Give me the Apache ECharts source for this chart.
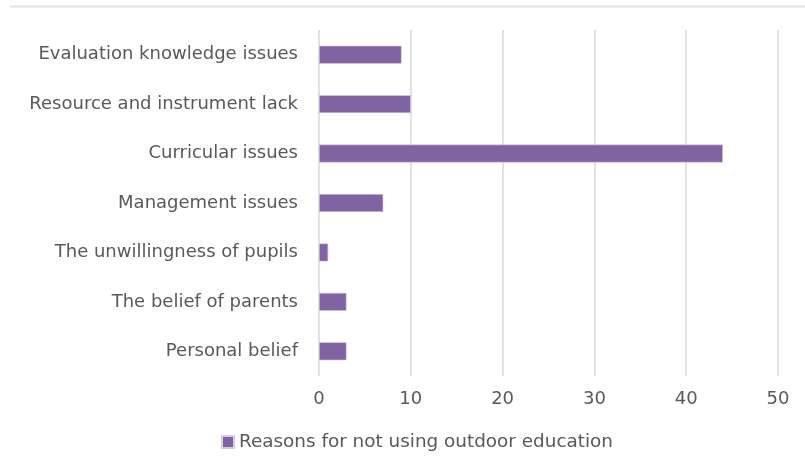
<!DOCTYPE html>
<html>
<head>
<meta charset="utf-8">
<script src="https://cdn.jsdelivr.net/npm/echarts@6/dist/echarts.min.js"></script>
<style>html,body{margin:0;padding:0;background:#fff}#c{width:805px;height:472px}</style>
</head>
<body>
<div id="c"></div>
<script>
const categories = ["Personal belief", "The belief of parents", "The unwillingness of pupils", "Management issues", "Curricular issues", "Resource and instrument lack", "Evaluation knowledge issues"];
const values = [3, 3, 1, 7, 44, 10, 9];
const seriesName = "Reasons for not using outdoor education";
const xTicks = [0, 10, 20, 30, 40, 50];

const chart = echarts.init(document.getElementById('c'), null, {renderer: 'canvas'});
const font = '"DejaVu Sans", sans-serif';
chart.setOption({
  animation: false,
  backgroundColor: '#fff',
  graphic: [{
    type: 'line', shape: {x1: 10, y1: 6.5, x2: 805, y2: 6.5},
    style: {stroke: '#e2e2e2', lineWidth: 2}
  }],
  grid: {left: 319, right: 27, top: 30, bottom: 96, containLabel: false},
  legend: {
    data: [seriesName], bottom: 16, left: 216,
    itemWidth: 12, itemHeight: 12, itemGap: 4,
    icon: 'rect',
    textStyle: {fontFamily: font, fontSize: 18.4, color: '#595959'}
  },
  xAxis: {
    type: 'value', min: xTicks[0], max: xTicks[xTicks.length - 1], interval: 10,
    axisLine: {show: false}, axisTick: {show: false},
    splitLine: {lineStyle: {color: '#d9d9d9', width: 1.5}},
    axisLabel: {fontFamily: font, fontSize: 18, color: '#595959', margin: 14}
  },
  yAxis: {
    type: 'category', data: categories,
    axisLine: {show: false}, axisTick: {show: false},
    axisLabel: {fontFamily: font, fontSize: 18, color: '#595959', margin: 21}
  },
  series: [{
    name: seriesName, type: 'bar', data: values,
    barWidth: 18,
    itemStyle: {color: '#8064a2', borderColor: '#d8cce6', borderWidth: 0.6}
  }]
});
</script>
</body>
</html>
